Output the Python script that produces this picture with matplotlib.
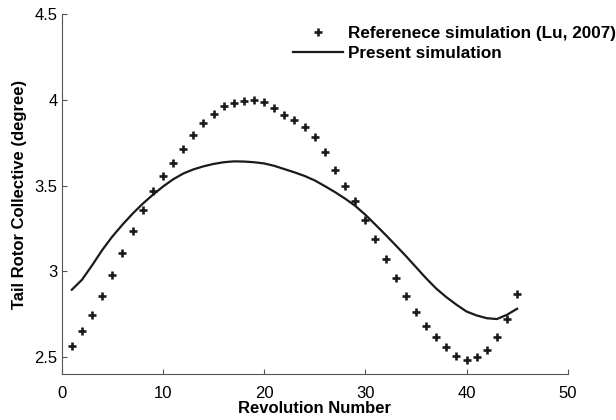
import numpy as np
import matplotlib
matplotlib.use("Agg")
from matplotlib import pyplot as plt

plt.rcParams["font.family"] = ["Liberation Sans", "DejaVu Sans"]

# reference simulation (Lu, 2007), one point per revolution
ref_rev = list(range(1, 46))
ref_val = [2.563, 2.650, 2.747, 2.856, 2.980, 3.107, 3.237, 3.359, 3.470, 3.553,
           3.631, 3.713, 3.796, 3.864, 3.918, 3.961, 3.980, 3.994, 4.000, 3.988,
           3.951, 3.913, 3.880, 3.843, 3.783, 3.693, 3.590, 3.500, 3.408, 3.301,
           3.188, 3.072, 2.961, 2.854, 2.763, 2.683, 2.615, 2.557, 2.505, 2.485,
           2.499, 2.544, 2.615, 2.722, 2.867]

# present simulation
sim_rev = list(range(1, 46))
sim_val = [2.893, 2.951, 3.035, 3.124, 3.203, 3.272, 3.336, 3.394, 3.446, 3.494,
           3.536, 3.570, 3.594, 3.612, 3.626, 3.636, 3.641, 3.640, 3.636, 3.629,
           3.615, 3.596, 3.577, 3.556, 3.530, 3.497, 3.462, 3.424, 3.382, 3.330,
           3.272, 3.213, 3.152, 3.090, 3.025, 2.960, 2.900, 2.850, 2.806, 2.766,
           2.743, 2.727, 2.722, 2.747, 2.782]

xticks = [0, 10, 20, 30, 40, 50]
yticks = [2.5, 3, 3.5, 4, 4.5]

fig = plt.figure(figsize=(6.16, 4.2), dpi=100)
ax = fig.add_axes([0.1002, 0.1088, 0.8214, 0.8579])

ax.plot(ref_rev, ref_val, linestyle="none", marker="+", markersize=6,
        markeredgewidth=1.9, color="#1a1a1a", label="Referenece simulation (Lu, 2007)")
ax.plot(sim_rev, sim_val, color="#1a1a1a", linewidth=1.6, label="Present simulation")

ax.set_xlim(0, 50)
ax.set_ylim(2.4, 4.5)
ax.set_xticks(xticks)
ax.set_yticks(yticks)
ax.set_xticklabels([str(t) for t in xticks])
ax.set_yticklabels(["2.5", "3", "3.5", "4", "4.5"])

for side in ["top", "right"]:
    ax.spines[side].set_visible(False)
for side in ["left", "bottom"]:
    ax.spines[side].set_color("#555555")
    ax.spines[side].set_linewidth(0.8)
ax.tick_params(direction="in", length=3.4, width=0.8, color="#555555",
               labelsize=12, labelcolor="black")
ax.tick_params(axis="x", pad=8.5)
ax.tick_params(axis="y", pad=3)

ax.set_xlabel("Revolution Number", fontsize=12, fontweight="bold", labelpad=0)
ax.set_ylabel("Tail Rotor Collective (degree)", fontsize=12, fontweight="bold", labelpad=5)

leg = ax.legend(loc="upper left", bbox_to_anchor=(293 / 616, 1 - 26 / 420),
                bbox_transform=fig.transFigure, frameon=False, borderpad=0,
                borderaxespad=0, handlelength=2.9, handletextpad=0.33,
                labelspacing=0.27, numpoints=1, prop={"size": 12.3, "weight": "bold"})

fig.savefig("out.png", dpi=100)
